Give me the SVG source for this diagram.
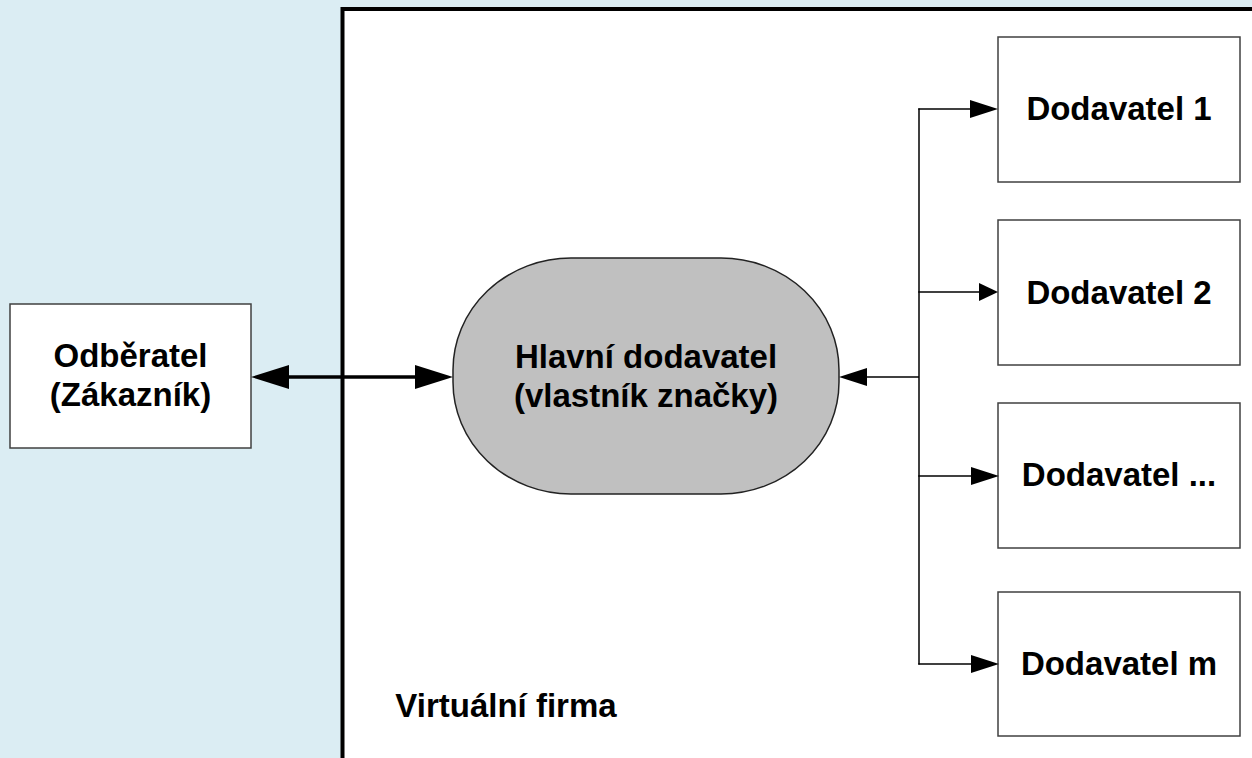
<svg xmlns="http://www.w3.org/2000/svg" width="1252" height="758" viewBox="0 0 1252 758">
  <defs>
    <style>
      .lbl { font-family: "Liberation Sans", Arial, sans-serif; font-weight: bold; font-size: 33px; fill: #000; text-anchor: middle; }
      .box { fill: #ffffff; stroke: #404040; stroke-width: 1.5; }
      .thin { stroke: #000; stroke-width: 1.5; fill: none; }
      .thick { stroke: #000; stroke-width: 3.5; fill: none; }
    </style>
    <marker id="ahThin" markerUnits="userSpaceOnUse" markerWidth="28" markerHeight="18" refX="0" refY="9" orient="auto">
      <path d="M0,0 L28,9 L0,18 z" fill="#000"/>
    </marker>
    <marker id="ahShort" markerUnits="userSpaceOnUse" markerWidth="19" markerHeight="18" refX="0" refY="9" orient="auto">
      <path d="M0,0 L19,9 L0,18 z" fill="#000"/>
    </marker>
    <marker id="ahThick" markerUnits="userSpaceOnUse" markerWidth="38" markerHeight="24" refX="0" refY="12" orient="auto-start-reverse">
      <path d="M0,0 L38,12 L0,24 z" fill="#000"/>
    </marker>
  </defs>

  <rect x="0" y="0" width="1252" height="758" fill="#DBEDF3"/>

  <g id="virtualni-firma">
    <rect x="342.5" y="9" width="1000" height="800" fill="#ffffff" stroke="#000" stroke-width="4"/>
    <text class="lbl" x="506" y="717">Virtuální firma</text>
  </g>

  <g id="odberatel">
    <rect class="box" x="10" y="304" width="241" height="144"/>
    <text class="lbl" x="130.5" y="367">Odběratel</text>
    <text class="lbl" x="130.5" y="406">(Zákazník)</text>
  </g>

  <g id="hlavni-dodavatel">
    <rect x="453" y="258" width="386" height="236" rx="118" ry="112" fill="#C0C0C0" stroke="#222" stroke-width="1.5"/>
    <text class="lbl" x="646" y="368">Hlavní dodavatel</text>
    <text class="lbl" x="646" y="407">(vlastník značky)</text>
  </g>

  <g id="dodavatel-1">
    <rect class="box" x="998" y="37" width="242" height="145"/>
    <text class="lbl" x="1119" y="120">Dodavatel 1</text>
  </g>
  <g id="dodavatel-2">
    <rect class="box" x="998" y="220" width="242" height="145"/>
    <text class="lbl" x="1119" y="304">Dodavatel 2</text>
  </g>
  <g id="dodavatel-n">
    <rect class="box" x="998" y="403" width="242" height="145"/>
    <text class="lbl" x="1119" y="486">Dodavatel ...</text>
  </g>
  <g id="dodavatel-m">
    <rect class="box" x="998" y="592" width="242" height="144"/>
    <text class="lbl" x="1119" y="675">Dodavatel m</text>
  </g>

  <g id="connectors">
    <line class="thick" x1="289" y1="377" x2="415" y2="377" marker-start="url(#ahThick)" marker-end="url(#ahThick)"/>
    <line class="thin" x1="919" y1="108.5" x2="919" y2="664.5"/>
    <line class="thin" x1="919" y1="377" x2="867" y2="377" marker-end="url(#ahThin)"/>
    <line class="thin" x1="918.25" y1="109" x2="970" y2="109" marker-end="url(#ahThin)"/>
    <line class="thin" x1="918.25" y1="292" x2="979" y2="292" marker-end="url(#ahShort)"/>
    <line class="thin" x1="918.25" y1="476" x2="971" y2="476" marker-end="url(#ahThin)"/>
    <line class="thin" x1="918.25" y1="664" x2="971" y2="664" marker-end="url(#ahThin)"/>
  </g>
</svg>
